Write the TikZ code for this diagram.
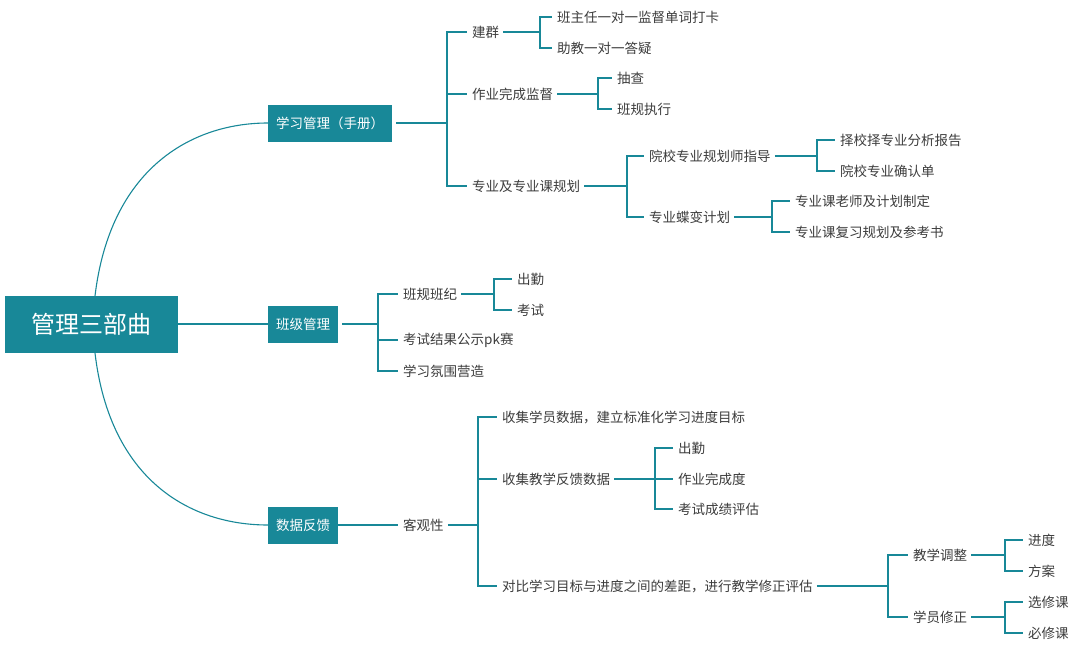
\documentclass[tikz,border=0pt]{standalone}
\usepackage{fontspec}
\setmainfont{Noto Sans CJK SC}
\usetikzlibrary{arrows.meta}
\definecolor{teal1}{RGB}{24,136,152}
\definecolor{txt}{RGB}{60,60,60}

\tikzset{
  rootbox/.style={fill=teal1, text=white, minimum width=173pt, minimum height=57pt,
    font=\fontsize{24}{28}\selectfont, inner sep=0pt},
  topbox/.style={fill=teal1, text=white, anchor=west, minimum height=37pt,
    inner xsep=8pt, font=\fontsize{13.5}{16}\selectfont},
  leaf/.style={anchor=west, text=txt, inner xsep=0pt, inner ysep=2pt,
    font=\fontsize{13.5}{16}\selectfont},
  link/.style={draw=teal1, line width=1.1pt}
}

% one parent, a spine at x, and its children
\newcommand{\branch}[3]{%
  \draw [link] (#1.east) ++(4pt,0) -- (#2,0 |- #1.east) coordinate (sp);
  \foreach \c in {#3} {\draw [link] (sp) |- ([xshift=-5pt]\c.west);}
}

\begin{document}
\begin{tikzpicture}[x=1pt,y=-1pt]
  \useasboundingbox (0,0) rectangle (1080,651);

  \node [rootbox] (root) at (91,324) {管理三部曲};
  \node [topbox] (study) at (268,123) {学习管理（手册）};
  \node [topbox] (klass) at (268,324) {班级管理};
  \node [topbox] (data) at (268,525) {数据反馈};

  \draw [link] (95,296) .. controls (110,170) and (190,123) .. (study.west);
  \draw [link] (root.east) -- (klass.west);
  \draw [link] (95,353) .. controls (110,480) and (190,525) .. (data.west);

  % study
  \node [leaf] (group) at (472,32) {建群};
  \node [leaf] (hw) at (472,94) {作业完成监督};
  \node [leaf] (major) at (472,186) {专业及专业课规划};
  \node [leaf] (g1) at (557,17) {班主任一对一监督单词打卡};
  \node [leaf] (g2) at (557,48) {助教一对一答疑};
  \node [leaf] (h1) at (617,78) {抽查};
  \node [leaf] (h2) at (617,109) {班规执行};
  \node [leaf] (m1) at (649,156) {院校专业规划师指导};
  \node [leaf] (m2) at (649,217) {专业蝶变计划};
  \node [leaf] (m11) at (840,140) {择校择专业分析报告};
  \node [leaf] (m12) at (840,171) {院校专业确认单};
  \node [leaf] (m21) at (795,201) {专业课老师及计划制定};
  \node [leaf] (m22) at (795,232) {专业课复习规划及参考书};
  \branch{study}{447}{group,hw,major}
  \branch{group}{540}{g1,g2}
  \branch{hw}{598}{h1,h2}
  \branch{major}{627}{m1,m2}
  \branch{m1}{817}{m11,m12}
  \branch{m2}{772}{m21,m22}

  % class
  \node [leaf] (rules) at (403,294) {班规班纪};
  \node [leaf] (pk) at (403,340) {考试结果公示pk赛};
  \node [leaf] (mood) at (403,371) {学习氛围营造};
  \node [leaf] (r1) at (517,279) {出勤};
  \node [leaf] (r2) at (517,310) {考试};
  \branch{klass}{378}{rules,pk,mood}
  \branch{rules}{494}{r1,r2}

  % data
  \node [leaf] (obj) at (403,525) {客观性};
  \node [leaf] (d1) at (502,417) {收集学员数据，建立标准化学习进度目标};
  \node [leaf] (d2) at (502,479) {收集教学反馈数据};
  \node [leaf] (d3) at (502,586) {对比学习目标与进度之间的差距，进行教学修正评估};
  \node [leaf] (f1) at (678,448) {出勤};
  \node [leaf] (f2) at (678,479) {作业完成度};
  \node [leaf] (f3) at (678,509) {考试成绩评估};
  \node [leaf] (t1) at (913,555) {教学调整};
  \node [leaf] (t2) at (913,617) {学员修正};
  \node [leaf] (t11) at (1028,540) {进度};
  \node [leaf] (t12) at (1028,571) {方案};
  \node [leaf] (t21) at (1028,602) {选修课};
  \node [leaf] (t22) at (1028,633) {必修课};
  \draw [link] (data.east) -- ([xshift=-5pt]obj.west);
  \branch{obj}{478}{d1,d2,d3}
  \branch{d2}{655}{f1,f2,f3}
  \branch{d3}{888}{t1,t2}
  \branch{t1}{1005}{t11,t12}
  \branch{t2}{1005}{t21,t22}
\end{tikzpicture}
\end{document}
